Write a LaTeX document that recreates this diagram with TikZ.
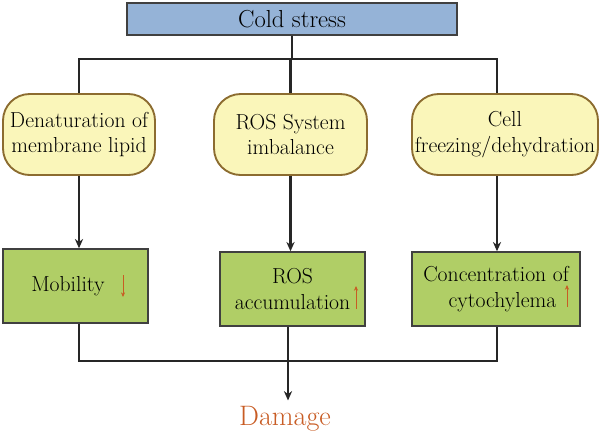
\documentclass[tikz,border=0pt]{standalone}
\usepackage{fontspec}
\usetikzlibrary{arrows.meta,calc}
\definecolor{coldblue}{RGB}{149,179,215}
\definecolor{softyellow}{RGB}{250,246,186}
\definecolor{tanline}{RGB}{140,108,48}
\definecolor{leaf}{RGB}{176,206,102}
\definecolor{rust}{RGB}{200,92,36}
\begin{document}
\begin{tikzpicture}[x=0.03cm,y=-0.03cm,
  every node/.style={font=\fontsize{18.5}{22}\selectfont,align=center,inner sep=0pt},
  cause/.style={draw=tanline,line width=1.6pt,fill=softyellow,rounded corners=0.8cm,minimum height=2.43cm},
  effect/.style={draw=black!75,line width=1.2pt,fill=leaf,minimum height=2.22cm,minimum width=4.35cm},
  link/.style={line width=1.8pt,black!85},
  tip/.style={link,-{Stealth[length=8pt,width=7pt]}},
  trend/.style={rust,line width=0.8pt,-{Stealth[length=4pt,width=3.5pt]}}]
  \useasboundingbox (0,0) rectangle (600,435);
  \node (c) [draw=black!75,line width=1.2pt,fill=coldblue,minimum width=9.9cm,minimum height=0.96cm,font=\fontsize{21}{24}\selectfont] at (292,19) {Cold stress};
  \node (a) [cause,minimum width=4.56cm] at (79,134.5) {Denaturation of\\membrane lipid};
  \node (b) [cause,minimum width=4.59cm] at (290.5,134.5) {ROS System\\imbalance};
  \node (e) [cause,minimum width=5.58cm] at (505,134.5) {Cell\\freezing/dehydration};
  \node (m) [effect] at (75.5,286) {Mobility\hspace{0.7em}};
  \node (r) [effect] at (292.5,289) {ROS\\accumulation\hspace{0.3em}};
  \node (k) [effect,minimum width=5.04cm] at (496,289) {Concentration of\\\hspace{0.6em}cytochylema\hspace{1.6em}};
  \node (d) [text=rust,font=\fontsize{24}{28}\selectfont,inner sep=5pt] at (285,419) {Damage};
  \coordinate (top) at (292,59);
  \coordinate (bot) at (288,361);
  % tree from the stress down to the three causes
  \draw[link] (c.south) -- (top);
  \draw[link] (a.north) |- (top) -| ($(e.north)+(-8,0)$);
  \draw[link] (b.north) -- (b.north |- top);
  \draw[tip] (a.south) -- (a.south |- m.north);
  \draw[tip] (b.south) -- (b.south |- r.north);
  \draw[tip] ($(e.south)+(-8,0)$) -- ($(e.south |- k.north)+(-8,0)$);
  % effects join into damage
  \draw[link] (a.south |- m.south) |- (bot) -| ($(e.south |- k.south)+(-8,0)$);
  \draw[link] (bot |- r.south) -- (bot);
  \draw[tip] (bot) -- (bot |- d.north);
  \draw[trend] ($(m.center)+(47.5,-11)$) -- ++(0,22);
  \draw[trend] ($(r.center)+(63.5,20)$) -- ++(0,-23);
  \draw[trend] ($(k.center)+(71,18)$) -- ++(0,-22);
\end{tikzpicture}
\end{document}
